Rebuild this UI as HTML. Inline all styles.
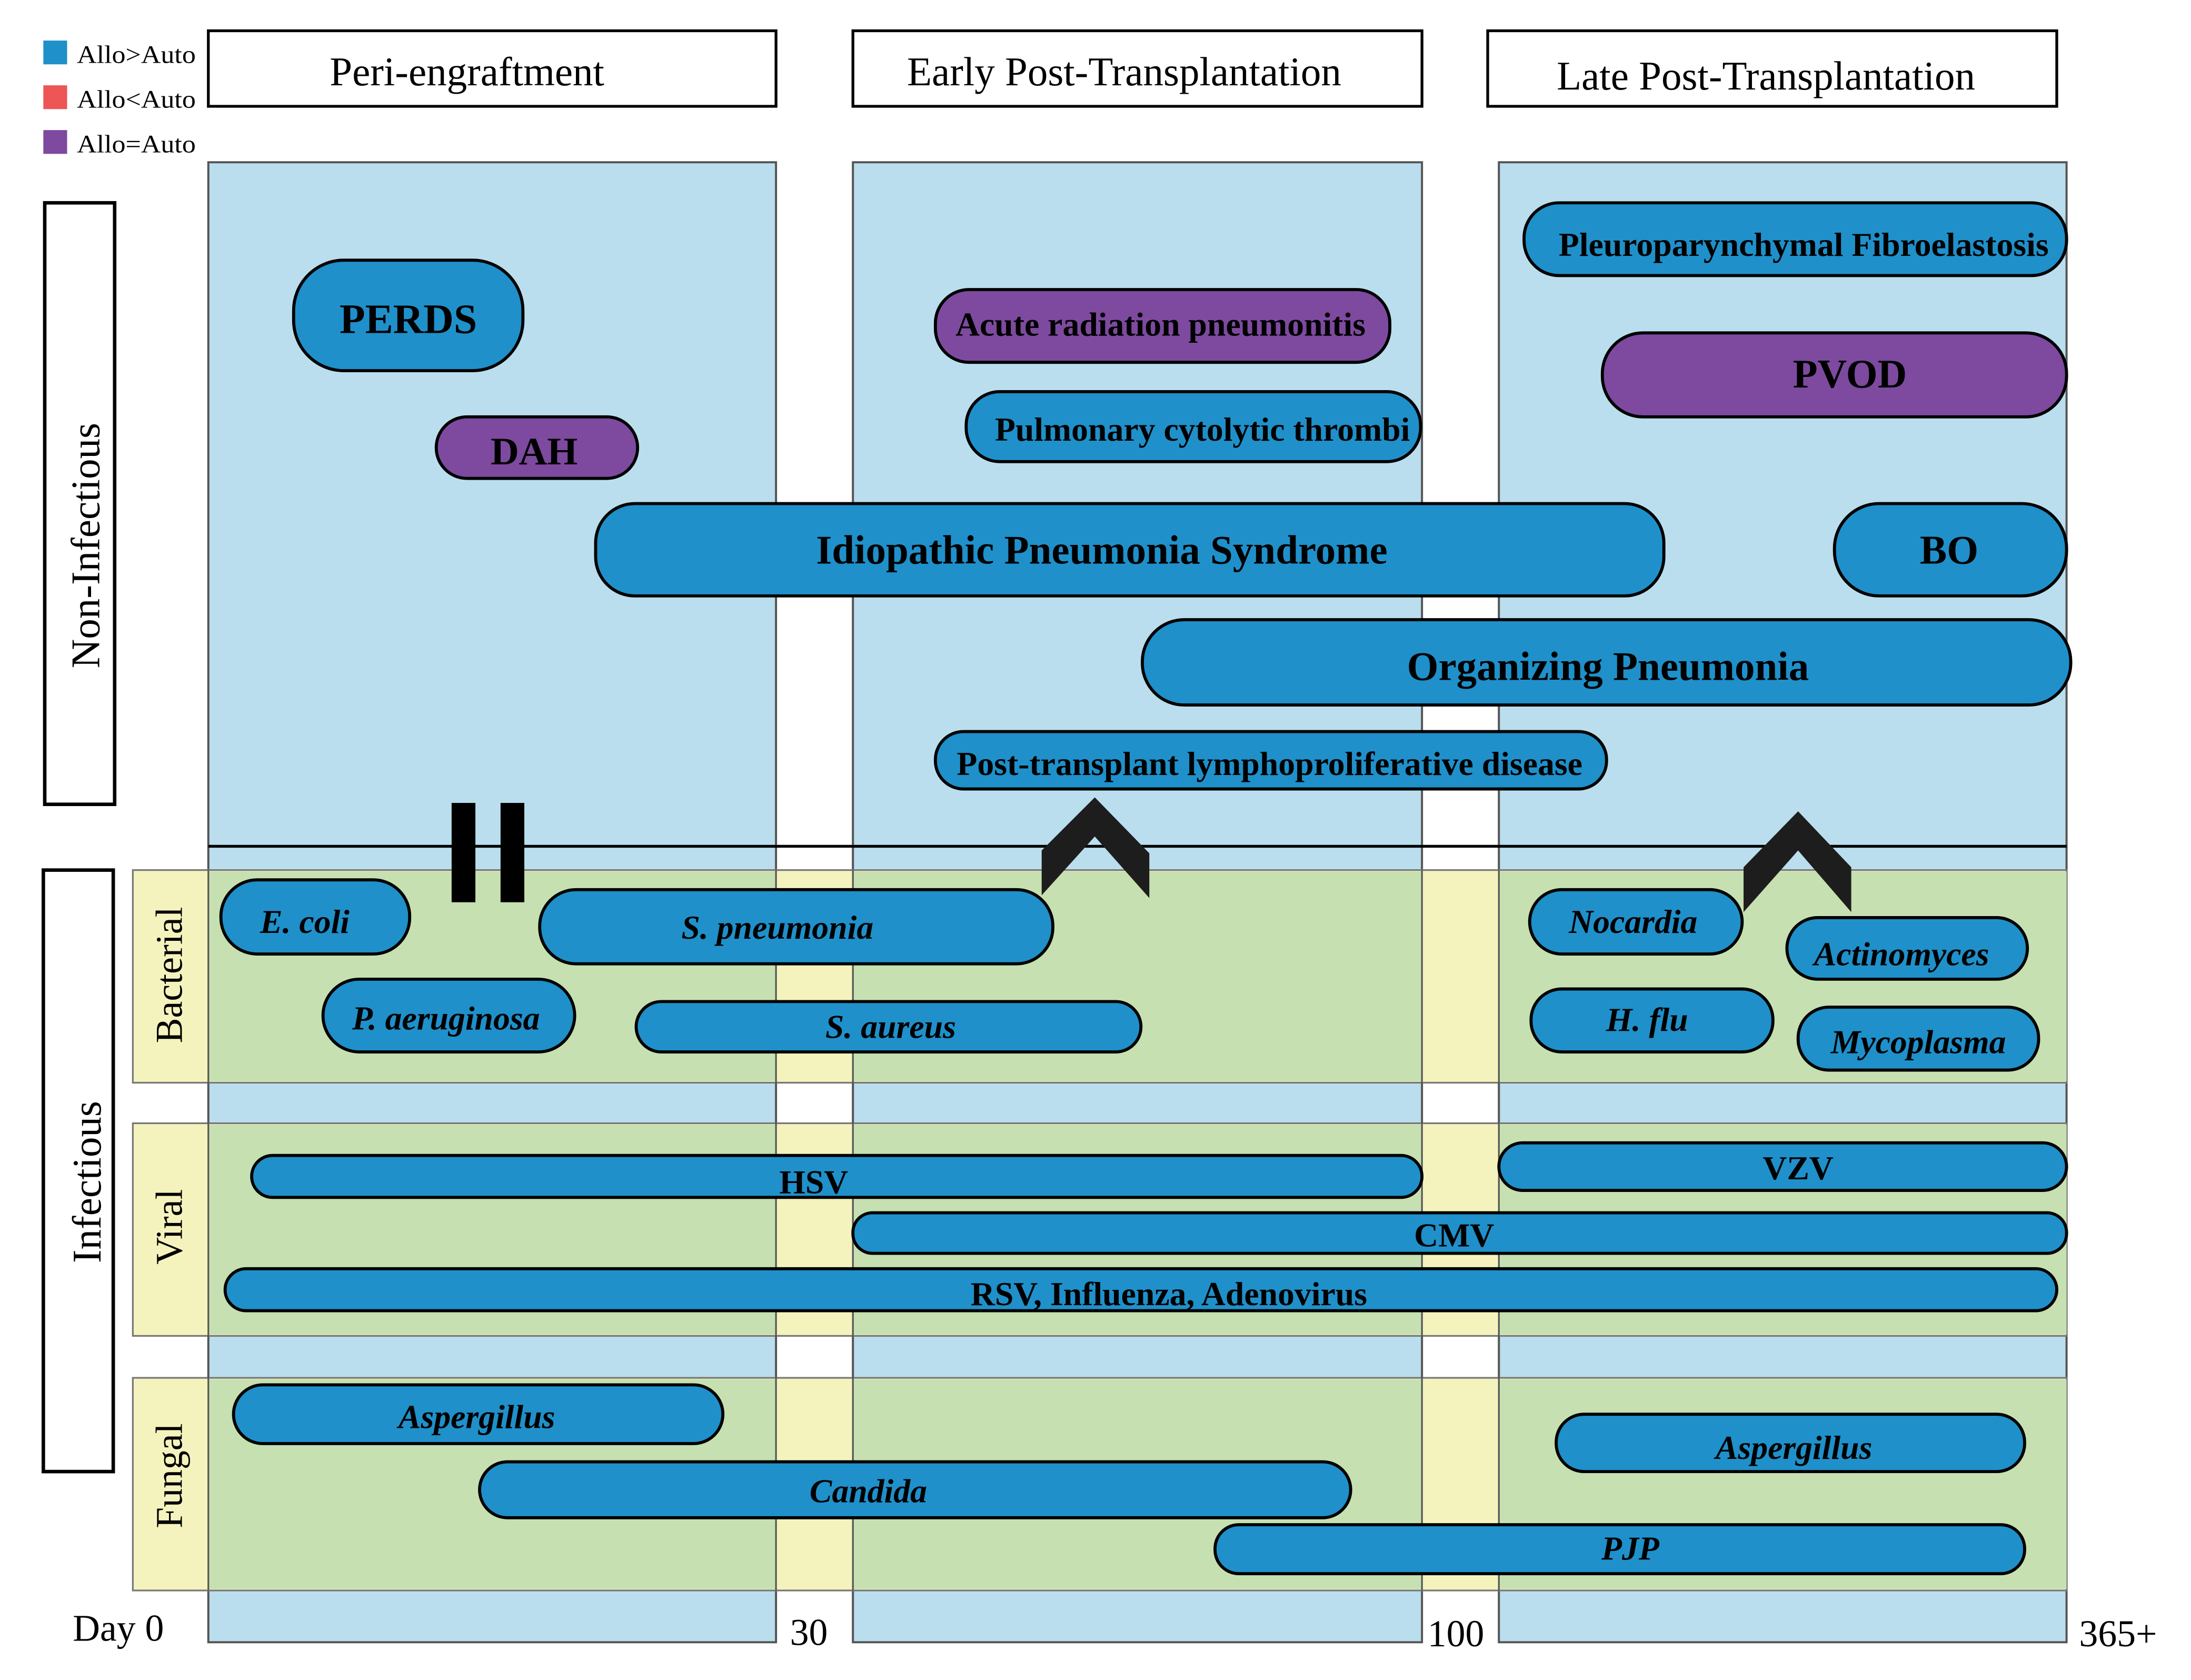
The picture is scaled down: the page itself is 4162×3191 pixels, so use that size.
<!DOCTYPE html>
<html><head><meta charset="utf-8"><style>
html,body{margin:0;padding:0;background:#fff;}
svg{display:block;}
text{font-family:"Liberation Serif",serif;}
.b{font-weight:bold;fill:#000;}
.i{font-weight:bold;font-style:italic;fill:#000;}
.p{fill:#1f90ca;stroke:#000;stroke-width:2.2;}
.u{fill:#7d4a9f;stroke:#000;stroke-width:2.2;}
</style></head><body>
<svg width="4162" height="3191" viewBox="0 0 1567 1201" preserveAspectRatio="none" xmlns="http://www.w3.org/2000/svg">
<rect width="1567" height="1201" fill="#fff"/>
<rect x="31" y="29" width="17" height="17" fill="#1f90ca"/>
<rect x="31" y="61" width="17" height="17" fill="#ee5555"/>
<rect x="31" y="93" width="17" height="17" fill="#7d4a9f"/>
<text x="55" y="45" font-size="18" textLength="85" lengthAdjust="spacingAndGlyphs">Allo&gt;Auto</text>
<text x="55" y="77" font-size="18" textLength="85" lengthAdjust="spacingAndGlyphs">Allo&lt;Auto</text>
<text x="55" y="109" font-size="18" textLength="85" lengthAdjust="spacingAndGlyphs">Allo=Auto</text>
<rect x="149" y="22" width="406" height="54" fill="#fff" stroke="#000" stroke-width="2"/>
<rect x="610" y="22" width="407" height="54" fill="#fff" stroke="#000" stroke-width="2"/>
<rect x="1064" y="22" width="407" height="54" fill="#fff" stroke="#000" stroke-width="2"/>
<text x="334" y="61" font-size="29" text-anchor="middle">Peri-engraftment</text>
<text x="804" y="61" font-size="29" text-anchor="middle">Early Post-Transplantation</text>
<text x="1263" y="64" font-size="29" text-anchor="middle">Late Post-Transplantation</text>
<rect x="149" y="116" width="406" height="1058" fill="#badeed" stroke="#555" stroke-width="1.5"/>
<rect x="610" y="116" width="407" height="1058" fill="#badeed" stroke="#555" stroke-width="1.5"/>
<rect x="1072" y="116" width="406" height="1058" fill="#badeed" stroke="#555" stroke-width="1.5"/>
<g stroke="#777" stroke-width="1.2">
<rect x="95" y="622" width="1383" height="152" fill="#f5f3bd"/>
<rect x="95" y="803" width="1383" height="152" fill="#f5f3bd"/>
<rect x="95" y="985" width="1383" height="152" fill="#f5f3bd"/>
</g>
<g fill="#c6e0b1">
<rect x="149" y="623" width="406" height="150"/><rect x="610" y="623" width="407" height="150"/><rect x="1072" y="623" width="406" height="150"/>
<rect x="149" y="804" width="406" height="150"/><rect x="610" y="804" width="407" height="150"/><rect x="1072" y="804" width="406" height="150"/>
<rect x="149" y="986" width="406" height="150"/><rect x="610" y="986" width="407" height="150"/><rect x="1072" y="986" width="406" height="150"/>
</g>
<g stroke="#555" stroke-width="1.2">
<line x1="149" y1="622" x2="149" y2="1137"/><line x1="555" y1="622" x2="555" y2="1137"/>
<line x1="610" y1="622" x2="610" y2="1137"/><line x1="1017" y1="622" x2="1017" y2="1137"/>
<line x1="1072" y1="622" x2="1072" y2="1137"/>
</g>
<line x1="149" y1="605" x2="1478" y2="605" stroke="#000" stroke-width="2"/>
<rect x="32" y="145" width="50" height="430" fill="#fff" stroke="#000" stroke-width="2.5"/>
<rect x="31" y="622" width="50" height="430" fill="#fff" stroke="#000" stroke-width="2.5"/>
<text transform="translate(71,390) rotate(-90)" font-size="29" text-anchor="middle">Non-Infectious</text>
<text transform="translate(72,845) rotate(-90)" font-size="29" text-anchor="middle">Infectious</text>
<text transform="translate(130,697) rotate(-90)" font-size="27" text-anchor="middle">Bacterial</text>
<text transform="translate(130,877) rotate(-90)" font-size="27" text-anchor="middle">Viral</text>
<text transform="translate(130,1055) rotate(-90)" font-size="27" text-anchor="middle">Fungal</text>
<text x="52" y="1173" font-size="27">Day 0</text>
<text x="565" y="1176" font-size="27">30</text>
<text x="1021" y="1177" font-size="27">100</text>
<text x="1487" y="1177" font-size="27">365+</text>
<rect class="p" x="210" y="186" width="164" height="79" rx="36"/>
<text class="b" x="292" y="238" font-size="30" text-anchor="middle">PERDS</text>
<rect class="u" x="312" y="298" width="144" height="44" rx="22"/>
<text class="b" x="382" y="332" font-size="28" text-anchor="middle">DAH</text>
<rect class="u" x="669" y="207" width="325" height="52" rx="24"/>
<text class="b" x="830" y="240" font-size="24" text-anchor="middle">Acute radiation pneumonitis</text>
<rect class="p" x="691" y="280" width="325" height="50" rx="24"/>
<text class="b" x="860" y="315" font-size="24" text-anchor="middle">Pulmonary cytolytic thrombi</text>
<rect class="p" x="1090" y="145" width="388" height="52" rx="25"/>
<text class="b" x="1290" y="183" font-size="24" text-anchor="middle">Pleuroparynchymal Fibroelastosis</text>
<rect class="u" x="1146" y="238" width="332" height="60" rx="29"/>
<text class="b" x="1323" y="277" font-size="29" text-anchor="middle">PVOD</text>
<rect class="p" x="426" y="360" width="764" height="66" rx="28"/>
<text class="b" x="788" y="403" font-size="29" text-anchor="middle">Idiopathic Pneumonia Syndrome</text>
<rect class="p" x="1312" y="360" width="166" height="66" rx="32"/>
<text class="b" x="1394" y="403" font-size="29" text-anchor="middle">BO</text>
<rect class="p" x="817" y="443" width="664" height="61" rx="30"/>
<text class="b" x="1150" y="486" font-size="29" text-anchor="middle">Organizing Pneumonia</text>
<rect class="p" x="669" y="523" width="480" height="41" rx="20"/>
<text class="b" x="908" y="554" font-size="24" text-anchor="middle">Post-transplant lymphoproliferative disease</text>
<rect x="323" y="574" width="17" height="71" fill="#000"/>
<rect x="358" y="574" width="17" height="71" fill="#000"/>
<polygon points="783,570 822,610 822,642 783,598 745,640 745,608" fill="#1d1d1d"/>
<polygon points="1286,580 1324,620 1324,652 1286,608 1247,652 1247,620" fill="#1d1d1d"/>
<rect class="p" x="158" y="629" width="135" height="53" rx="26"/>
<text class="i" x="218" y="667" font-size="24" text-anchor="middle">E. coli</text>
<rect class="p" x="386" y="636" width="367" height="53" rx="26"/>
<text class="i" x="556" y="671" font-size="24" text-anchor="middle">S. pneumonia</text>
<rect class="p" x="231" y="700" width="180" height="52" rx="26"/>
<text class="i" x="319" y="736" font-size="24" text-anchor="middle">P. aeruginosa</text>
<rect class="p" x="455" y="716" width="361" height="36" rx="18"/>
<text class="i" x="637" y="742" font-size="24" text-anchor="middle">S. aureus</text>
<rect class="p" x="1094" y="636" width="152" height="46" rx="23"/>
<text class="i" x="1168" y="667" font-size="24" text-anchor="middle">Nocardia</text>
<rect class="p" x="1278" y="656" width="172" height="44" rx="22"/>
<text class="i" x="1360" y="690" font-size="24" text-anchor="middle">Actinomyces</text>
<rect class="p" x="1095" y="707" width="173" height="45" rx="22"/>
<text class="i" x="1178" y="737" font-size="24" text-anchor="middle">H. flu</text>
<rect class="p" x="1286" y="720" width="172" height="45" rx="22"/>
<text class="i" x="1372" y="753" font-size="24" text-anchor="middle">Mycoplasma</text>
<rect class="p" x="180" y="826" width="837" height="30" rx="15"/>
<text class="b" x="582" y="853" font-size="24" text-anchor="middle">HSV</text>
<rect class="p" x="1072" y="817" width="406" height="34" rx="17"/>
<text class="b" x="1286" y="843" font-size="24" text-anchor="middle">VZV</text>
<rect class="p" x="610" y="867" width="868" height="29" rx="14"/>
<text class="b" x="1040" y="891" font-size="24" text-anchor="middle">CMV</text>
<rect class="p" x="161" y="907" width="1310" height="30" rx="15"/>
<text class="b" x="836" y="933" font-size="24" text-anchor="middle">RSV, Influenza, Adenovirus</text>
<rect class="p" x="167" y="990" width="350" height="42" rx="21"/>
<text class="i" x="341" y="1021" font-size="24" text-anchor="middle">Aspergillus</text>
<rect class="p" x="343" y="1045" width="623" height="40" rx="20"/>
<text class="i" x="621" y="1074" font-size="24" text-anchor="middle">Candida</text>
<rect class="p" x="1113" y="1011" width="335" height="41" rx="20"/>
<text class="i" x="1283" y="1043" font-size="24" text-anchor="middle">Aspergillus</text>
<rect class="p" x="869" y="1090" width="579" height="35" rx="17"/>
<text class="i" x="1166" y="1115" font-size="24" text-anchor="middle">PJP</text>
</svg>
</body></html>
